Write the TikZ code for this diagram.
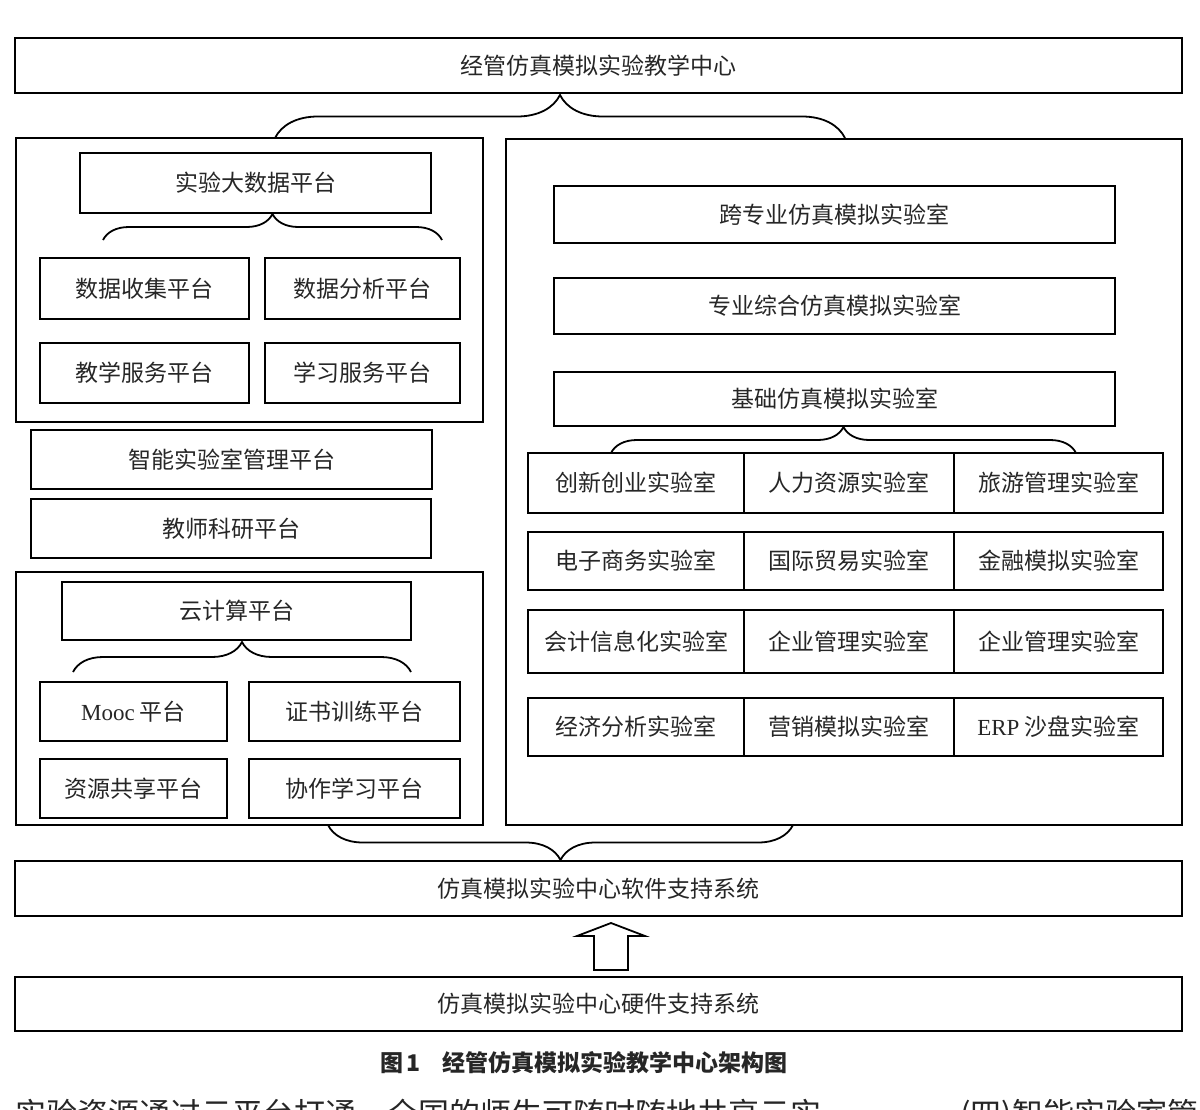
\documentclass[tikz,border=0pt]{standalone}
\usepackage{fontspec}
\setmainfont{Noto Sans CJK SC}
\newfontfamily\latin{Liberation Serif}
\usetikzlibrary{decorations.pathreplacing}

% box from its corners (x1,y1) to (x2,y2), in pixels of the sketch
\newcommand{\blk}[6]{%
  \pgfmathsetmacro{\bw}{#4-#2}\pgfmathsetmacro{\bh}{#5-#3}%
  \node[box, anchor=north west, minimum width=\bw pt, minimum height=\bh pt] (#1) at (#2,#3) {#6};}

\begin{document}
\begin{tikzpicture}[
x=1pt, y=-1pt,
font=\fontsize{23}{27}\selectfont,
box/.style={draw, line width=2.6pt, inner sep=0pt, outer sep=0pt, text=black!85,
    text height=20pt, text depth=3pt},
brc/.style={decorate, decoration={brace, amplitude=#1pt}, line width=1.8pt},
arw/.style={line width=1.8pt, line join=miter},
body/.style={anchor=north west, inner sep=0pt, font=\fontsize{31}{34}\selectfont, text=black!85},
]
    \useasboundingbox (0,0) rectangle (1200,1109);
    \clip (0,0) rectangle (1200,1109);

    % Top level
    \blk{center}{15}{38}{1182}{93}{经管仿真模拟实验教学中心}

    % Left: data platforms
    \blk{lpanel}{16}{138}{483}{422}{}
    \blk{bigdata}{80}{153}{431}{213}{实验大数据平台}
    \blk{collect}{40}{258}{249}{319}{数据收集平台}
    \blk{analyse}{265}{258}{460}{319}{数据分析平台}
    \blk{teach}{40}{343}{249}{403}{教学服务平台}
    \blk{learn}{265}{343}{460}{403}{学习服务平台}
    \blk{smart}{31}{430}{432}{489}{智能实验室管理平台}
    \blk{research}{31}{499}{431}{558}{教师科研平台}

    % Left: cloud platforms
    \blk{cpanel}{16}{572}{483}{825}{}
    \blk{cloud}{62}{582}{411}{640}{云计算平台}
    \blk{mooc}{40}{682}{227}{741}{{\latin Mooc} 平台}
    \blk{cert}{249}{682}{460}{741}{证书训练平台}
    \blk{share}{40}{759}{227}{818}{资源共享平台}
    \blk{collab}{249}{759}{460}{818}{协作学习平台}

    % Right: labs
    \blk{rpanel}{506}{139}{1182}{825}{}
    \blk{cross}{554}{186}{1115}{243}{跨专业仿真模拟实验室}
    \blk{major}{554}{278}{1115}{334}{专业综合仿真模拟实验室}
    \blk{basic}{554}{372}{1115}{426}{基础仿真模拟实验室}

    \blk{lab11}{528}{453}{744}{513}{创新创业实验室}
    \blk{lab12}{744}{453}{954}{513}{人力资源实验室}
    \blk{lab13}{954}{453}{1163}{513}{旅游管理实验室}
    \blk{lab21}{528}{532}{744}{590}{电子商务实验室}
    \blk{lab22}{744}{532}{954}{590}{国际贸易实验室}
    \blk{lab23}{954}{532}{1163}{590}{金融模拟实验室}
    \blk{lab31}{528}{610}{744}{673}{会计信息化实验室}
    \blk{lab32}{744}{610}{954}{673}{企业管理实验室}
    \blk{lab33}{954}{610}{1163}{673}{企业管理实验室}
    \blk{lab41}{528}{698}{744}{756}{经济分析实验室}
    \blk{lab42}{744}{698}{954}{756}{营销模拟实验室}
    \blk{lab43}{954}{698}{1163}{756}{{\latin ERP} 沙盘实验室}

    % Support systems
    \blk{soft}{15}{861}{1182}{916}{仿真模拟实验中心软件支持系统}
    \blk{hard}{15}{977}{1182}{1031}{仿真模拟实验中心硬件支持系统}

    % Braces
    \coordinate (top-l) at (lpanel.north -| 275,0);
    \coordinate (top-r) at (lpanel.north -| 845,0);
    \draw[brc=43] (top-l) -- (top-r);
    \coordinate (bd-l) at (103,240);
    \coordinate (bd-r) at (442,240);
    \draw[brc=26] (bd-l) -- (bd-r);
    \coordinate (cl-l) at (73,672);
    \coordinate (cl-r) at (411,672);
    \draw[brc=30] (cl-l) -- (cl-r);
    \coordinate (ba-l) at (lab11.north -| 611,0);
    \coordinate (ba-r) at (lab11.north -| 1076,0);
    \draw[brc=26] (ba-l) -- (ba-r);
    \coordinate (bt-l) at (cpanel.south -| 328,0);
    \coordinate (bt-r) at (cpanel.south -| 793,0);
    \draw[brc=35] (bt-r) -- (bt-l);

    % Hollow arrow from hardware up to software
    \draw[arw] (594,970) -- (594,936) -- (577,936) -- (611,923)
        -- (645,936) -- (628,936) -- (628,970) -- cycle;

    % Caption and running text
    \node[font=\fontsize{23}{26}\selectfont\bfseries, text=black!85] (caption) at (584,1063)
        {图\,1\hspace{22pt}经管仿真模拟实验教学中心架构图};
    \node[body] (bodyl) at (15,1099)
        {实验资源通过云平台打通，全国的师生可随时随地共享云实};
    \node[body] (bodyr) at (960,1099)
        {(四)智能实验室管};

\end{tikzpicture}
\end{document}
